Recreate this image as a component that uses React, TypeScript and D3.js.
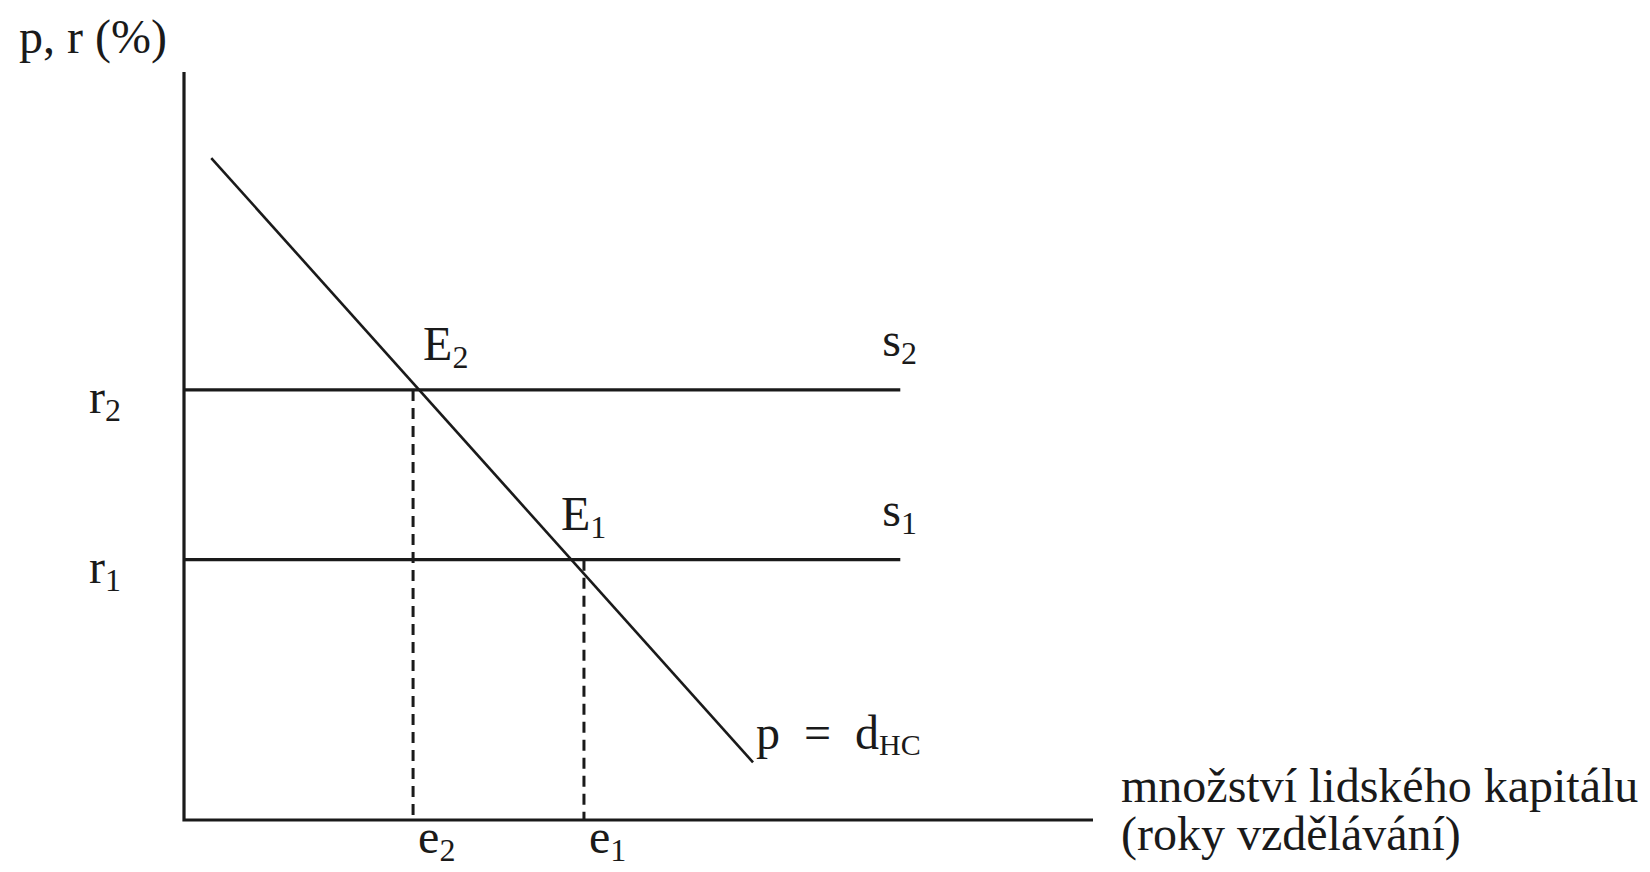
import * as d3 from 'd3';

// hodnoty (osa x i y v libovolných jednotkách 0–100)
const demandLine = [
  { q: 3, p: 88.5 },
  { q: 62.6, p: 7.7 },
];
const rates = [
  { name: '2', r: 57.5, e: 25.2 },
  { name: '1', r: 34.8, e: 44 },
];
const supplyEnd = 78.8;
const yTitle = 'p, r (%)';
const xTitle = ['množství lidského kapitálu', '(roky vzdělávání)'];

const W = 1650;
const H = 872;
const FONT = '"Liberation Serif", "DejaVu Serif", serif';
const INK = '#1a1a1a';

export default function App() {
  const x = d3.scaleLinear().domain([0, 100]).range([184, 1093]);
  const y = d3.scaleLinear().domain([0, 100]).range([820, 72]);

  const line = d3
    .line<{ q: number; p: number }>()
    .x(d => x(d.q))
    .y(d => y(d.p));

  const endPt = demandLine[demandLine.length - 1];

  return (
    <div style={{ position: 'fixed', left: 0, top: 0 }}>
      <svg width={W} height={H} style={{ display: 'block', background: '#fff' }} fontFamily={FONT} fill={INK}>
        {/* osy */}
        <path
          d={`M${x(0)},${y(100)}V${y(0)}H${x(100)}`}
          fill="none"
          stroke={INK}
          strokeWidth={3.2}
        />

        {/* nabídka s1, s2 */}
        {rates.map((d, i) => (
          <g key={'s' + d.name}>
            <line x1={x(0)} x2={x(supplyEnd)} y1={y(d.r)} y2={y(d.r)} stroke={INK} strokeWidth={3.2} />
            <line
              x1={x(d.e)}
              x2={x(d.e)}
              y1={y(d.r)}
              y2={y(0)}
              stroke={INK}
              strokeWidth={3}
              strokeDasharray="11,7"
            />
            <text x={x(0) - 95} y={y(d.r) + 23} fontSize={48}>
              r<tspan fontSize={32} dy={8}>{d.name}</tspan>
            </text>
            <text x={x(d.e) + (i === 0 ? 10 : -23)} y={y(d.r) - 30} fontSize={48}>
              E<tspan fontSize={32} dy={8}>{d.name}</tspan>
            </text>
            <text x={x(supplyEnd) - 18} y={y(d.r) - 34} fontSize={48}>
              s<tspan fontSize={32} dy={8}>{d.name}</tspan>
            </text>
            <text x={x(d.e) + 5} y={y(0) + 33} fontSize={48}>
              e<tspan fontSize={32} dy={8}>{d.name}</tspan>
            </text>
          </g>
        ))}

        {/* poptávka */}
        <path d={line(demandLine) ?? ''} fill="none" stroke={INK} strokeWidth={2.6} />
        <text x={x(endPt.q) + 3} y={y(endPt.p) - 13} fontSize={48}>
          p<tspan dx={24}>=</tspan>
          <tspan dx={24}>d</tspan>
          <tspan fontSize={30} dy={6}>HC</tspan>
        </text>

        {/* popisky os */}
        <text x={x(0) - 165} y={y(100) - 19} fontSize={48}>
          {yTitle}
        </text>
        {xTitle.map((t, i) => (
          <text key={i} x={x(100) + 28} y={y(0) - 18 + i * 48} fontSize={48}>
            {t}
          </text>
        ))}
      </svg>
    </div>
  );
}
